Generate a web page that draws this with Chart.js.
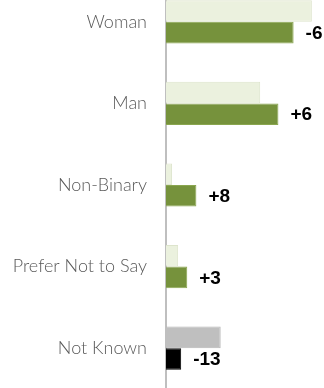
<!DOCTYPE html>
<html>
<head>
<meta charset="utf-8">
<script src="https://cdn.jsdelivr.net/npm/chart.js@4"></script>
<style>
	html, body { margin: 0; padding: 0; background: #fff; overflow: hidden; }
	#chart { position: absolute; left: 0; top: -19px; }
</style>
</head>
<body>
<canvas id="chart" width="324" height="408"></canvas>
<script>
const categories = ["Woman", "Man", "Non-Binary", "Prefer Not to Say", "Not Known"];
const previous = [48, 31, 2, 4, 18];
const current = [42, 37, 10, 7, 5];
const changeLabels = ["-6", "+6", "+8", "+3", "-13"];

const prevColors = ["#EBF1DE", "#EBF1DE", "#EBF1DE", "#EBF1DE", "#BFBFBF"];
const currColors = ["#76923C", "#76923C", "#76923C", "#76923C", "#000000"];

const changeLabelPlugin = {
	id: "changeLabels",
	afterDatasetsDraw(chart) {
		const ctx = chart.ctx;
		const meta = chart.getDatasetMeta(1);
		ctx.save();
		ctx.font = "bold 19px 'Liberation Sans', Arial, sans-serif";
		ctx.fillStyle = "#000";
		ctx.textAlign = "left";
		ctx.textBaseline = "middle";
		meta.data.forEach((bar, i) => {
			ctx.fillText(changeLabels[i], bar.x + 12, bar.y + 1);
		});
		ctx.restore();
	},
};

const chart = new Chart(document.getElementById("chart"), {
	type: "bar",
	data: {
		labels: categories,
		datasets: [
			{
				label: "Previous",
				data: previous,
				backgroundColor: prevColors,
				borderColor: ["#DDE4CC", "#DDE4CC", "#DDE4CC", "#DDE4CC", "#B5B5B5"],
				borderWidth: 1,
				categoryPercentage: 0.53,
				barPercentage: 1,
			},
			{
				label: "Current",
				data: current,
				backgroundColor: currColors,
				borderColor: ["#8AA64F", "#8AA64F", "#8AA64F", "#8AA64F", "#000000"],
				borderWidth: 1,
				categoryPercentage: 0.53,
				barPercentage: 1,
			},
		],
	},
	options: {
		indexAxis: "y",
		responsive: false,
		animation: false,
		layout: { padding: 0, autoPadding: false },
		plugins: {
			legend: { display: false },
			tooltip: { enabled: false },
		},
		scales: {
			x: {
				display: false,
				min: 0,
				max: 52,
			},
			y: {
				grid: { display: false },
				border: { display: true, color: "#BFBFBF", width: 2 },
				ticks: {
					color: "#595959",
					padding: 11,
					font: { family: "Lato", size: 18, weight: 300 },
				},
				afterFit(scale) {
					scale.width = 166;
					scale.paddingTop = 0;
					scale.paddingBottom = 0;
				},
			},
		},
	},
	plugins: [changeLabelPlugin],
});
</script>
</body>
</html>
